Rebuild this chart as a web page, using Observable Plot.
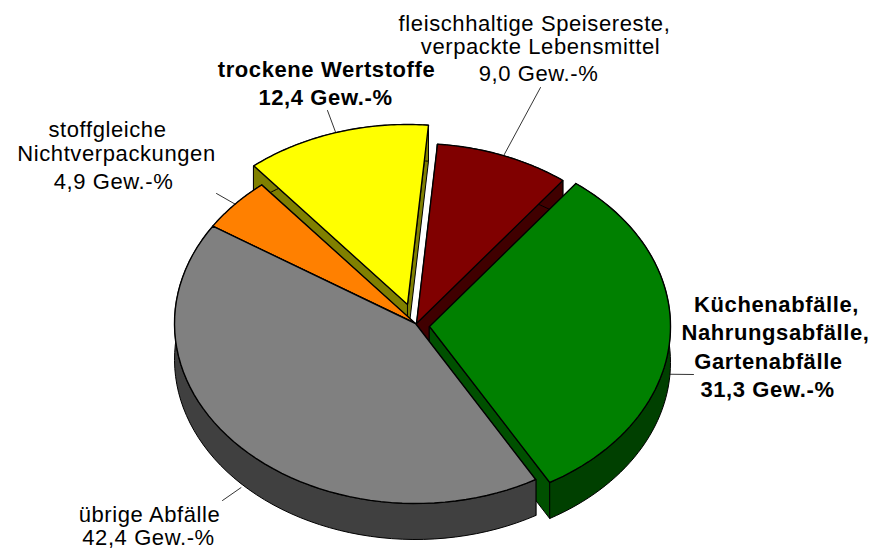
<!DOCTYPE html>
<html><head><meta charset="utf-8">
<script src="https://cdn.jsdelivr.net/npm/d3@7"></script>
<script src="https://cdn.jsdelivr.net/npm/@observablehq/plot@0.6"></script>
<style>html,body{margin:0;padding:0;background:#fff}svg{display:block}</style>
</head><body><div id="chart"></div>
<script>
// Data, clockwise from the top of the pie
const categories = ["fleischhaltige Speisereste, verpackte Lebensmittel", "Küchenabfälle, Nahrungsabfälle, Gartenabfälle", "übrige Abfälle", "stoffgleiche Nichtverpackungen", "trockene Wertstoffe"];
const values = [9.0, 31.3, 42.4, 4.9, 12.4];
const labelLines = [
  ["fleischhaltige Speisereste,", "verpackte Lebensmittel", "9,0 Gew.-%"],
  ["Küchenabfälle,", "Nahrungsabfälle,", "Gartenabfälle", "31,3 Gew.-%"],
  ["übrige Abfälle", "42,4 Gew.-%"],
  ["stoffgleiche", "Nichtverpackungen", "4,9 Gew.-%"],
  ["trockene Wertstoffe", "12,4 Gew.-%"]
];

// Appearance and layout
const topColors = ["#800000", "#008000", "#808080", "#ff8000", "#ffff00"];
const sideColors = ["#400000", "#004000", "#404040", "#804000", "#808000"];
const cutColors = ["#400000", "#005000", "#404040", "#804000", "#808000"];
const bold = [false, true, false, false, true];
const apex = [[416, 323], [429, 326], [415, 323], [415, 323], [407, 304]];
const rx = 241, ry = 180, depth = 36, startAngle = 5;
const leaderEnd = [[540, 87], [693, 374], [222, 500], [216, 193], [327, 110]];
const leaderDepth = [0, 36, 40, 0, 0];
const labelX = [[534, 540, 538], [776, 775, 768, 767], [149, 148], [107, 116, 113], [326, 325]];
const labelY = [[23, 46, 73], [304, 332, 361, 389], [514, 537], [129, 153, 181], [69, 97]];
const drawOrder = [0, 4, 3, 1, 2];

const total = d3.sum(values);
const rad = (d) => d * Math.PI / 180;
const angles = [];
values.reduce((a, v, i) => { angles[i] = [a, a + v / total * 360]; return angles[i][1]; }, startAngle);
const rim = (i, t, dy = 0) => ({x: apex[i][0] + rx * Math.sin(rad(t)), y: apex[i][1] - ry * Math.cos(rad(t)) + dy});
const arc = (i, dy = 0) => d3.range(0, 61).map((k) => rim(i, angles[i][0] + (angles[i][1] - angles[i][0]) * k / 60, dy));
const at = (i, dy = 0) => ({x: apex[i][0], y: apex[i][1] + dy});
const face = (pts, fill, sw) => Plot.line(pts, {x: "x", y: "y", fill, stroke: "#000", strokeWidth: sw, curve: "linear-closed"});

const marks = [];
for (const i of drawOrder) {
  const [t0, t1] = angles[i];
  marks.push(face([at(i), rim(i, t0), rim(i, t0, depth), at(i, depth)], cutColors[i], 1));
  marks.push(face([at(i), rim(i, t1), rim(i, t1, depth), at(i, depth)], cutColors[i], 1));
  marks.push(face([...arc(i), ...arc(i, depth).reverse()], sideColors[i], 1));
  marks.push(face([at(i), ...arc(i)], topColors[i], 1.4));
}
values.forEach((v, i) => {
  const mid = (angles[i][0] + angles[i][1]) / 2;
  marks.push(Plot.line([rim(i, mid, leaderDepth[i]), {x: leaderEnd[i][0], y: leaderEnd[i][1]}], {x: "x", y: "y", stroke: "#000", strokeWidth: 0.8}));
  const rows = labelLines[i].map((text, k) => ({text, x: labelX[i][k], y: labelY[i][k]}));
  marks.push(Plot.text(rows, {x: "x", y: "y", text: "text", fontSize: 22, fontWeight: bold[i] ? "bold" : "normal", fill: "#000", textAnchor: "middle", lineAnchor: "middle"}));
});

const plot = Plot.plot({
  width: 874, height: 549, margin: 0,
  style: {fontFamily: "'Liberation Sans', Arial, sans-serif", background: "#fff", letterSpacing: "0.6px"},
  x: {domain: [0, 874], range: [0, 874], axis: null},
  y: {domain: [0, 549], range: [0, 549], axis: null},
  marks
});
document.getElementById("chart").append(plot);
</script></body></html>
